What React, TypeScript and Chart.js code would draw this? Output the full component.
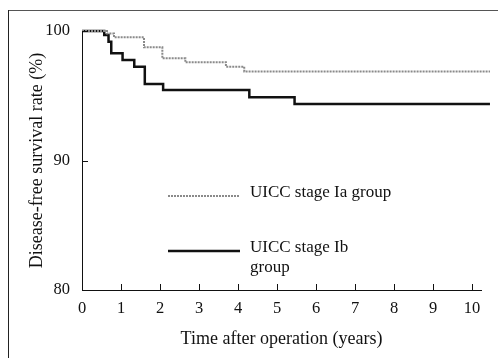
import React, { useEffect, useRef } from "react";
import { Chart, registerables } from "chart.js";

Chart.register(...registerables);

const seriesNames = ["UICC stage Ia group", "UICC stage Ib group"];
const legendLines = [["UICC stage Ia group"], ["UICC stage Ib", "group"]];

const iaTimes = [0, 0.64, 0.82, 1.59, 2.06, 2.65, 3.69, 4.16, 10.46];
const iaValues = [100, 99.8, 99.51, 98.74, 97.89, 97.58, 97.24, 96.88, 96.88];

const ibTimes = [0, 0.57, 0.68, 0.75, 1.04, 1.34, 1.61, 2.08, 4.29, 5.45, 10.46];
const ibValues = [100, 99.69, 99.17, 98.28, 97.76, 97.24, 95.9, 95.44, 94.88, 94.36, 94.36];

const xTicks = [0, 1, 2, 3, 4, 5, 6, 7, 8, 9, 10];
const yTicks = [80, 90, 100];

const xTitle = "Time after operation (years)";
const yTitle = "Disease-free survival rate (%)";

const FONT = "'Liberation Serif', 'Times New Roman', serif";

const toPoints = (xs: number[], ys: number[]) => xs.map((x, i) => ({ x, y: ys[i] }));

const decorPlugin = {
  id: "decor",
  beforeDraw(chart: any) {
    const ctx = chart.ctx;
    ctx.save();
    ctx.fillStyle = "#ffffff";
    ctx.fillRect(0, 0, chart.width, chart.height);
    ctx.strokeStyle = "#555";
    ctx.lineWidth = 1;
    ctx.beginPath();
    ctx.moveTo(8, 10.5);
    ctx.lineTo(chart.width, 10.5);
    ctx.stroke();
    ctx.strokeStyle = "#222";
    ctx.beginPath();
    ctx.moveTo(8.5, 10);
    ctx.lineTo(8.5, chart.height);
    ctx.stroke();
    ctx.restore();
  },
  afterDraw(chart: any) {
    const ctx = chart.ctx;
    const xs = chart.scales.x;
    const ys = chart.scales.y;
    const area = chart.chartArea;
    ctx.save();
    ctx.strokeStyle = "#111";
    ctx.lineWidth = 1;
    xTicks.forEach((t) => {
      if (t === 0) return;
      const px = Math.round(xs.getPixelForValue(t)) + 0.5;
      ctx.beginPath();
      ctx.moveTo(px, area.bottom);
      ctx.lineTo(px, area.bottom - 6);
      ctx.stroke();
    });
    yTicks.forEach((v) => {
      if (v === 80) return;
      const py = Math.round(ys.getPixelForValue(v)) + 0.5;
      ctx.beginPath();
      ctx.moveTo(area.left, py);
      ctx.lineTo(area.left + 6, py);
      ctx.stroke();
    });
    // legend
    const rowsY = [196, 251];
    chart.data.datasets.forEach((ds: any, i: number) => {
      ctx.save();
      ctx.strokeStyle = ds.borderColor;
      ctx.lineWidth = ds.borderWidth;
      ctx.setLineDash(ds.borderDash || []);
      ctx.beginPath();
      ctx.moveTo(168, rowsY[i]);
      ctx.lineTo(240, rowsY[i]);
      ctx.stroke();
      ctx.restore();
      ctx.fillStyle = "#111";
      ctx.font = `17px ${FONT}`;
      ctx.textBaseline = "middle";
      ctx.textAlign = "left";
      legendLines[i].forEach((line, j) => {
        ctx.fillText(line, 250, rowsY[i] - 3 + j * 20);
      });
    });
    ctx.restore();
  },
};

export default function App() {
  const ref = useRef<HTMLCanvasElement | null>(null);
  useEffect(() => {
    document.body.style.margin = "0";
    if (!ref.current) return;
    const chart = new Chart(ref.current, {
      type: "line",
      data: {
        datasets: [
          {
            label: seriesNames[0],
            data: toPoints(iaTimes, iaValues),
            borderColor: "#8a8a8a",
            borderWidth: 2,
            borderDash: [2, 1],
            stepped: true,
            pointRadius: 0,
            fill: false,
            clip: false as any,
          },
          {
            label: seriesNames[1],
            data: toPoints(ibTimes, ibValues),
            borderColor: "#111111",
            borderWidth: 2.5,
            stepped: true,
            pointRadius: 0,
            fill: false,
            clip: false as any,
          },
        ],
      },
      options: {
        animation: false,
        responsive: false,
        maintainAspectRatio: false,
        layout: { padding: { top: 31, right: 17, left: 0, bottom: 0 } },
        plugins: { legend: { display: false }, tooltip: { enabled: false } },
        scales: {
          x: {
            type: "linear",
            min: 0,
            max: 10.23,
            afterFit: (s: any) => {
              s.height = 68;
            },
            afterBuildTicks: (s: any) => {
              s.ticks = xTicks.map((v) => ({ value: v }));
            },
            grid: { display: false, drawTicks: false },
            border: { display: true, color: "#111", width: 1 },
            ticks: {
              padding: 9,
              color: "#111",
              font: { family: FONT, size: 16.5 },
              maxRotation: 0,
              autoSkip: false,
            },
            title: {
              display: true,
              text: xTitle,
              color: "#111",
              font: { family: FONT, size: 18 },
              padding: { top: 0, bottom: 8 },
            },
          },
          y: {
            type: "linear",
            min: 80,
            max: 100,
            afterFit: (s: any) => {
              s.width = 82;
            },
            afterBuildTicks: (s: any) => {
              s.ticks = yTicks.map((v) => ({ value: v }));
            },
            grid: { display: false, drawTicks: false },
            border: { display: true, color: "#111", width: 1 },
            ticks: {
              padding: 12,
              color: "#111",
              font: { family: FONT, size: 16.5 },
            },
            title: {
              display: true,
              text: yTitle,
              color: "#111",
              font: { family: FONT, size: 18 },
              padding: { top: 26, bottom: 0 },
            },
          },
        },
      },
      plugins: [decorPlugin],
    });
    return () => chart.destroy();
  }, []);
  return <canvas ref={ref} width={498} height={358} style={{ display: "block" }} />;
}
